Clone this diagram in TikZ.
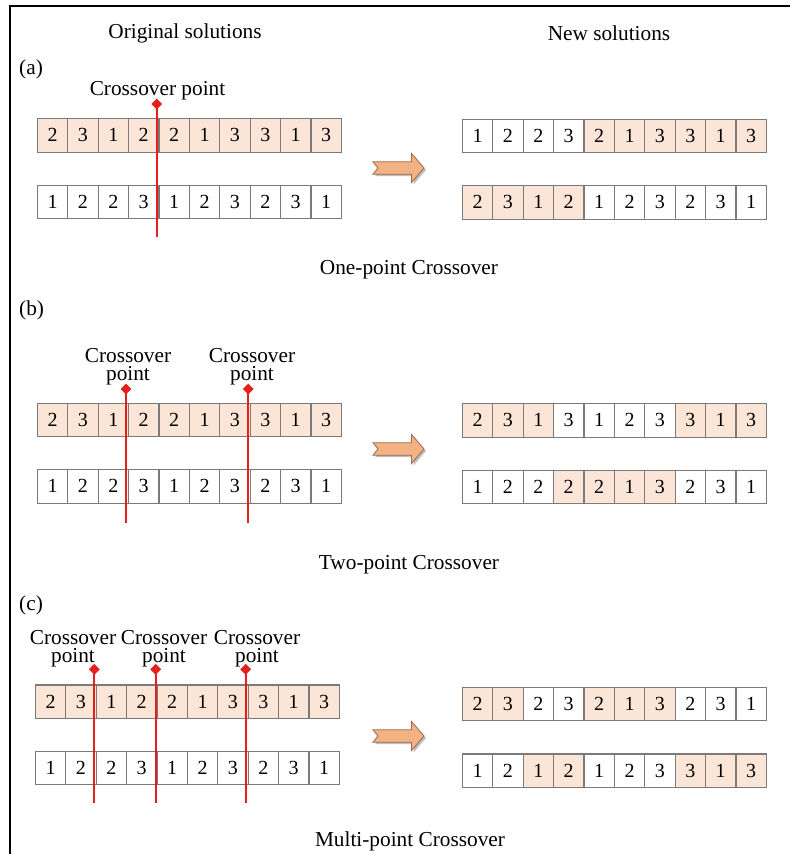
\documentclass[tikz,border=0pt]{standalone}
\usepackage{fontspec}
\setmainfont{Liberation Serif}
\usetikzlibrary{shapes.geometric}

\definecolor{peach}{HTML}{FBE5D6}
\definecolor{cellline}{HTML}{7A7A7A}
\definecolor{cutred}{HTML}{E5201C}
\definecolor{arrowfill}{HTML}{F4B183}
\definecolor{arrowline}{HTML}{9C6A4A}

% one chromosome: name, left x, top y, list of gene/shaded pairs
\newcommand\generow[4]{%
  \foreach \d/\s [count=\i] in {#4}{
    \node[cell, shade\s] (#1-\i) at ({#2+(\i-1)*30.4}, #3) {\d};
  }}

% crossover cut: name, x, y of marker, y of lower end
\newcommand\cutat[4]{%
  \coordinate (#1-top) at (#2,#3);
  \coordinate (#1-bot) at (#2,#4);
  \draw[cutline] (#1-top) -- (#1-bot);
  \node[cutmark] (#1-mark) at (#1-top) {};
}

% block arrow with notched tail, centred at (x,y)
\newcommand\bigarrow[2]{%
  \begin{scope}[shift={(#1,#2)}]
    \fill[black, opacity=0.25] (-23.5,-4.2) -- (15,-4.2) -- (15,-12.6) -- (27.5,2) -- (15,16.6) -- (15,8.2) -- (-23.5,8.2) -- (-18.5,2) -- cycle;
    \draw[fill=arrowfill, draw=arrowline, line width=0.8pt, line join=miter]
      (-25.5,-6.2) -- (13,-6.2) -- (13,-14.6) -- (25.5,0) -- (13,14.6) -- (13,6.2) -- (-25.5,6.2) -- (-20.5,0) -- cycle;
  \end{scope}}

\begin{document}
\begin{tikzpicture}[x=1pt,y=-1pt,
  lbl/.style={font=\fontsize{21.3}{18}\selectfont, inner sep=0pt, align=center},
  cell/.style={draw=cellline, line width=1.2pt, minimum width=30.4pt, minimum height=33.5pt,
    inner sep=0pt, anchor=north west, font=\fontsize{20}{20}\selectfont},
  shade0/.style={fill=white},
  shade1/.style={fill=peach},
  cutline/.style={draw=cutred, line width=2pt},
  cutmark/.style={diamond, fill=cutred, inner sep=0pt, minimum size=11pt}]

\useasboundingbox (0,0) rectangle (790,854);
\fill[white] (0,0) rectangle (790,854);
\draw[line width=1.6pt] (10,854) -- (10,6) -- (790,6);

% column headings
\node[lbl] (hOrig) at (185,33) {Original solutions};
\node[lbl] (hNew) at (609,33) {New solutions};

% ---------- (a) one-point ----------
\node[lbl, anchor=west] (tagA) at (19,69) {(a)};
\generow{aP1}{36.7}{118}{2/1,3/1,1/1,2/1,2/1,1/1,3/1,3/1,1/1,3/1}
\generow{aP2}{36.7}{184.5}{1/0,2/0,2/0,3/0,1/0,2/0,3/0,2/0,3/0,1/0}
\cutat{aC1}{156.7}{104}{237}
\node[lbl] (aLbl) at (157.5,91) {Crossover point};
\bigarrow{398.5}{168}
\generow{aN1}{461.7}{118.5}{1/0,2/0,2/0,3/0,2/1,1/1,3/1,3/1,1/1,3/1}
\generow{aN2}{461.7}{185}{2/1,3/1,1/1,2/1,1/0,2/0,3/0,2/0,3/0,1/0}
\node[lbl] (aName) at (409,270) {One-point Crossover};

% ---------- (b) two-point ----------
\node[lbl, anchor=west] (tagB) at (19,310) {(b)};
\generow{bP1}{36.7}{402.7}{2/1,3/1,1/1,2/1,2/1,1/1,3/1,3/1,1/1,3/1}
\generow{bP2}{36.7}{469}{1/0,2/0,2/0,3/0,1/0,2/0,3/0,2/0,3/0,1/0}
\cutat{bC1}{126}{389}{522.7}
\cutat{bC2}{248.3}{389}{522.7}
\node[lbl] (bLbl1) at (128,366.5) {Crossover\\point};
\node[lbl] (bLbl2) at (252,366.5) {Crossover\\point};
\bigarrow{398.5}{449}
\generow{bN1}{461.7}{403}{2/1,3/1,1/1,3/0,1/0,2/0,3/0,3/1,1/1,3/1}
\generow{bN2}{461.7}{469.5}{1/0,2/0,2/0,2/1,2/1,1/1,3/1,2/0,3/0,1/0}
\node[lbl] (bName) at (409,565) {Two-point Crossover};

% ---------- (c) multi-point ----------
\node[lbl, anchor=west] (tagC) at (19,605) {(c)};
\generow{cP1}{34.7}{684.3}{2/1,3/1,1/1,2/1,2/1,1/1,3/1,3/1,1/1,3/1}
\generow{cP2}{34.7}{750.7}{1/0,2/0,2/0,3/0,1/0,2/0,3/0,2/0,3/0,1/0}
\cutat{cC1}{94.3}{669.3}{802.7}
\cutat{cC2}{155.7}{669.3}{802.7}
\cutat{cC3}{245.7}{669.3}{802.7}
\node[lbl] (cLbl1) at (73,649) {Crossover\\point};
\node[lbl] (cLbl2) at (164,649) {Crossover\\point};
\node[lbl] (cLbl3) at (257,649) {Crossover\\point};
\bigarrow{398.5}{736}
\generow{cN1}{461.7}{686.7}{2/1,3/1,2/0,3/0,2/1,1/1,3/1,2/0,3/0,1/0}
\generow{cN2}{461.7}{753.3}{1/0,2/0,1/1,2/1,1/0,2/0,3/0,3/1,1/1,3/1}
\node[lbl] (cName) at (410,841) {Multi-point Crossover};

\end{tikzpicture}
\end{document}
